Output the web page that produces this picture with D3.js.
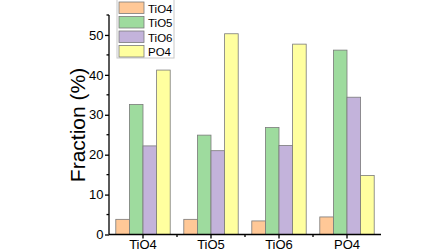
<!DOCTYPE html>
<html lang="en">
  <head>
    <meta charset="UTF-8" />
    <title>Fraction</title>
    <style>
      body { margin: 0; background: #fff; }
      svg { display: block; font-family: "Liberation Sans", Arial, sans-serif; }
    </style>
  </head>
  <body>
    <svg></svg>
    <script src="https://d3js.org/d3.v7.min.js"></script>
    <script>
      // data
      const categories = ["TiO4", "TiO5", "TiO6", "PO4"];
      const seriesNames = ["TiO4", "TiO5", "TiO6", "PO4"];
      const tio4Values = [3.8, 3.8, 3.4, 4.4];
      const tio5Values = [32.6, 24.9, 26.8, 46.2];
      const tio6Values = [22.2, 21.0, 22.3, 34.4];
      const po4Values = [41.2, 50.3, 47.7, 14.8];
      const yTicks = [0, 10, 20, 30, 40, 50];
      const yMinorTicks = [5, 15, 25, 35, 45, 55];

      const seriesValues = [tio4Values, tio5Values, tio6Values, po4Values];
      const colors = ["#ffc897", "#9edb9e", "#c3b3db", "#ffff9f"];

      const width = 448, height = 252;
      const svg = d3.select("svg").attr("width", width).attr("height", height);

      const x = d3.scaleBand().domain(categories).range([109, 381]).padding(0);
      const y = d3.scaleLinear().domain([0, 55]).range([234.5, 15]);
      const inner = d3.scaleBand().domain(seriesNames)
        .range([x.bandwidth() * 0.1, x.bandwidth() * 0.9]).padding(0);

      // bars
      categories.forEach((cat, ci) => {
        const g = svg.append("g").attr("transform", "translate(" + x(cat) + ",0)");
        seriesNames.forEach((s, si) => {
          const v = seriesValues[si][ci];
          g.append("rect")
            .attr("x", inner(s))
            .attr("y", y(v))
            .attr("width", inner.bandwidth())
            .attr("height", y(0) - y(v))
            .attr("fill", colors[si])
            .attr("stroke", "#7a7a7a")
            .attr("stroke-width", 0.8);
        });
      });

      // y axis
      const yAxis = svg.append("g").attr("transform", "translate(109,0)")
        .call(d3.axisLeft(y).tickValues(yTicks).tickSize(4).tickPadding(1.5));
      yAxis.append("g").selectAll("line").data(yMinorTicks).join("line")
        .attr("x1", 0).attr("x2", -2.5)
        .attr("y1", d => y(d)).attr("y2", d => y(d))
        .attr("stroke", "#000");
      yAxis.select(".domain").attr("d", "M0," + y(0) + "V" + y(55));
      yAxis.selectAll("text").attr("font-size", 13).attr("font-family", "Liberation Sans, Arial, sans-serif").attr("fill", "#000");
      yAxis.selectAll("line, path").attr("stroke", "#000").attr("stroke-width", 1.3);

      // x axis
      const xAxis = svg.append("g").attr("transform", "translate(0," + y(0) + ")")
        .call(d3.axisBottom(x).tickSize(4).tickPadding(1));
      xAxis.append("g").selectAll("line").data(categories.slice(1)).join("line")
        .attr("x1", d => x(d)).attr("x2", d => x(d))
        .attr("y1", 0).attr("y2", 2.5)
        .attr("stroke", "#000");
      xAxis.select(".domain").attr("d", "M109,0H381");
      xAxis.selectAll("text").attr("font-size", 13).attr("font-family", "Liberation Sans, Arial, sans-serif").attr("fill", "#000");
      xAxis.selectAll("line, path").attr("stroke", "#000").attr("stroke-width", 1.3);

      // y label
      svg.append("text")
        .attr("transform", "translate(85,125) rotate(-90)")
        .attr("text-anchor", "middle")
        .attr("font-size", 21)
        .text("Fraction (%)");

      // legend
      const legend = svg.append("g");
      legend.append("rect")
        .attr("x", 117).attr("y", -1).attr("width", 57).attr("height", 59)
        .attr("fill", "#fff").attr("stroke", "#c8c8c8").attr("stroke-width", 1);
      seriesNames.forEach((s, i) => {
        const ly = 2 + i * 14.5;
        legend.append("rect")
          .attr("x", 119).attr("y", ly).attr("width", 25).attr("height", 11.5)
          .attr("fill", colors[i]).attr("stroke", "#7a7a7a").attr("stroke-width", 0.8);
        legend.append("text")
          .attr("x", 148).attr("y", ly + 10.5)
          .attr("font-size", 11.5)
          .text(s);
      });
    </script>
  </body>
</html>
